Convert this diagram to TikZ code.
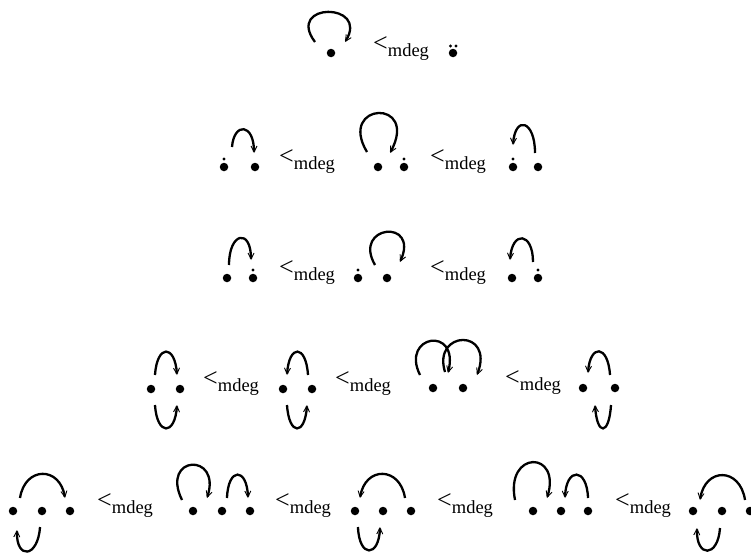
\documentclass[tikz,border=0pt]{standalone}
\usepackage{fontspec}
\setmainfont{Liberation Serif}
\usetikzlibrary{arrows.meta}
\newcommand{\lessmdeg}{{\fontsize{26}{30}\selectfont <}\raisebox{-5pt}{\fontsize{18.5}{22}\selectfont mdeg}}
\tikzset{
  >={Straight Barb[length=6pt,width=6pt,line width=0.9pt]},
  vertex/.style={circle,fill=black,inner sep=0pt,minimum size=8.5pt},
  halfedge/.style={circle,fill=black,inner sep=0pt,minimum size=3.2pt},
  loopline/.style={->,line width=2.3pt},
  order/.style={anchor=base west,inner sep=0pt}
}
\begin{document}
\begin{tikzpicture}[x=1pt,y=-1pt]
  \useasboundingbox (0,0) rectangle (751,554);

  % one vertex
  \node[vertex] at (331,53) (r1a) {};
  \node[order] at (373,51) (r1o) {\lessmdeg};
  \node[vertex] at (453,53) (r1b) {};
  \node[halfedge] at (450.5,46) (r1b1) {};
  \node[halfedge] at (456,46) (r1b2) {};
  \draw[loopline] ([shift={(-16,-11)}]r1a.center) .. controls +(-30,-40) and +(25,-40) .. ([shift={(14,-11)}]r1a.center);

  % two vertices, one edge and one half edge
  \node[vertex] at (224,167) (r2a) {};
  \node[halfedge] at (224,159) (r2a0) {};
  \node[vertex] at (255,167) (r2b) {};
  \node[order] at (279,164) (r2o1) {\lessmdeg};
  \node[vertex] at (378,167) (r2c) {};
  \node[vertex] at (404,167) (r2d) {};
  \node[halfedge] at (404,159) (r2d0) {};
  \node[order] at (430,164) (r2o2) {\lessmdeg};
  \node[vertex] at (513,167) (r2e) {};
  \node[halfedge] at (513,159) (r2e0) {};
  \node[vertex] at (538,167) (r2f) {};
  \draw[loopline] ([shift={(8,-20)}]r2a.center) .. controls +(2,-25) and +(0,-30) .. ([shift={(-1,-14)}]r2b.center);
  \draw[loopline] ([shift={(-11,-15)}]r2c.center) .. controls +(-30,-50) and +(30,-55) .. ([shift={(12,-14)}]r2c.center);
  \draw[loopline] ([shift={(-3,-14)}]r2f.center) .. controls +(0,-33) and +(2,-30) .. ([shift={(0,-22)}]r2e.center);

  \node[vertex] at (227,278) (r3a) {};
  \node[vertex] at (253,278) (r3b) {};
  \node[halfedge] at (253,270) (r3b0) {};
  \node[order] at (279,275) (r3o1) {\lessmdeg};
  \node[vertex] at (358,278) (r3c) {};
  \node[halfedge] at (358,270) (r3c0) {};
  \node[vertex] at (387,278) (r3d) {};
  \node[order] at (430,275) (r3o2) {\lessmdeg};
  \node[vertex] at (512,278) (r3e) {};
  \node[vertex] at (538,278) (r3f) {};
  \node[halfedge] at (538,270) (r3f0) {};
  \draw[loopline] ([shift={(2,-13)}]r3a.center) .. controls +(0,-33) and +(0,-32) .. ([shift={(-2,-18)}]r3b.center);
  \draw[loopline] ([shift={(-12,-13)}]r3d.center) .. controls +(-23,-40) and +(20,-44) .. ([shift={(13,-16)}]r3d.center);
  \draw[loopline] ([shift={(-5,-16)}]r3f.center) .. controls +(0,-30) and +(2,-30) .. ([shift={(-2,-18)}]r3e.center);

  % two vertices, two edges
  \node[vertex] at (151,389) (r4a) {};
  \node[vertex] at (180,389) (r4b) {};
  \node[order] at (203,386) (r4o1) {\lessmdeg};
  \node[vertex] at (283,389) (r4c) {};
  \node[vertex] at (312,389) (r4d) {};
  \node[order] at (335,386) (r4o2) {\lessmdeg};
  \node[vertex] at (433,388) (r4e) {};
  \node[vertex] at (463,388) (r4f) {};
  \node[order] at (505,385) (r4o3) {\lessmdeg};
  \node[vertex] at (583,388) (r4g) {};
  \node[vertex] at (615,388) (r4h) {};
  \draw[loopline] ([shift={(4,-14)}]r4a.center) .. controls +(2,-31) and +(-2,-31) .. ([shift={(-3,-14)}]r4b.center);
  \draw[loopline] ([shift={(4,16)}]r4a.center) .. controls +(2,31) and +(-2,31) .. ([shift={(-3,16)}]r4b.center);
  \draw[loopline] ([shift={(-4,-14)}]r4d.center) .. controls +(-2,-31) and +(2,-31) .. ([shift={(4,-14)}]r4c.center);
  \draw[loopline] ([shift={(4,16)}]r4c.center) .. controls +(2,31) and +(-2,31) .. ([shift={(-5,16)}]r4d.center);
  \draw[loopline] ([shift={(-13,-13)}]r4e.center) .. controls +(-20,-40) and +(12,-48) .. ([shift={(15,-15)}]r4e.center);
  \draw[loopline] ([shift={(-18,-16)}]r4f.center) .. controls +(-13,-42) and +(18,-47) .. ([shift={(14,-13)}]r4f.center);
  \draw[loopline] ([shift={(-5,-13)}]r4h.center) .. controls +(-2,-31) and +(2,-29) .. ([shift={(5,-15)}]r4g.center);
  \draw[loopline] ([shift={(-4,17)}]r4h.center) .. controls +(-2,31) and +(2,31) .. ([shift={(12,17)}]r4g.center);

  % three vertices, two edges
  \node[vertex] at (13,511) (r5a1) {};
  \node[vertex] at (42,511) (r5a2) {};
  \node[vertex] at (70,511) (r5a3) {};
  \node[order] at (97,508) (r5o1) {\lessmdeg};
  \node[vertex] at (193,511) (r5b1) {};
  \node[vertex] at (222,511) (r5b2) {};
  \node[vertex] at (250,511) (r5b3) {};
  \node[order] at (275,508) (r5o2) {\lessmdeg};
  \node[vertex] at (355,511) (r5c1) {};
  \node[vertex] at (383,511) (r5c2) {};
  \node[vertex] at (411,511) (r5c3) {};
  \node[order] at (437,508) (r5o3) {\lessmdeg};
  \node[vertex] at (533,511) (r5d1) {};
  \node[vertex] at (561,511) (r5d2) {};
  \node[vertex] at (588,511) (r5d3) {};
  \node[order] at (615,508) (r5o4) {\lessmdeg};
  \node[vertex] at (693,511) (r5e1) {};
  \node[vertex] at (722,511) (r5e2) {};
  \node[vertex] at (750,511) (r5e3) {};
  \draw[loopline] ([shift={(7,-13)}]r5a1.center) .. controls +(5,-32) and +(-5,-32) .. ([shift={(-5,-13)}]r5a3.center);
  \draw[loopline] ([shift={(-2,16)}]r5a2.center) .. controls +(-2,31) and +(-1,30) .. ([shift={(4,19)}]r5a1.center);
  \draw[loopline] ([shift={(-11,-11)}]r5b1.center) .. controls +(-22,-45) and +(15,-46) .. ([shift={(14,-13)}]r5b1.center);
  \draw[loopline] ([shift={(5,-13)}]r5b2.center) .. controls +(1,-31) and +(-1,-31) .. ([shift={(-2,-13)}]r5b3.center);
  \draw[loopline] ([shift={(-6,-13)}]r5c3.center) .. controls +(-5,-32) and +(5,-32) .. ([shift={(5,-13)}]r5c1.center);
  \draw[loopline] ([shift={(3,16)}]r5c1.center) .. controls +(1,31) and +(-1,31) .. ([shift={(-3,16)}]r5c2.center);
  \draw[loopline] ([shift={(-18,-11)}]r5d1.center) .. controls +(-10,-50) and +(15,-48) .. ([shift={(14,-13)}]r5d1.center);
  \draw[loopline] ([shift={(0,-13)}]r5d3.center) .. controls +(-1,-31) and +(1,-31) .. ([shift={(4,-13)}]r5d2.center);
  \draw[loopline] ([shift={(-5,-11)}]r5e3.center) .. controls +(-5,-33) and +(5,-33) .. ([shift={(7,-11)}]r5e1.center);
  \draw[loopline] ([shift={(-2,17)}]r5e2.center) .. controls +(-2,30) and +(-1,30) .. ([shift={(4,17)}]r5e1.center);
\end{tikzpicture}
\end{document}
